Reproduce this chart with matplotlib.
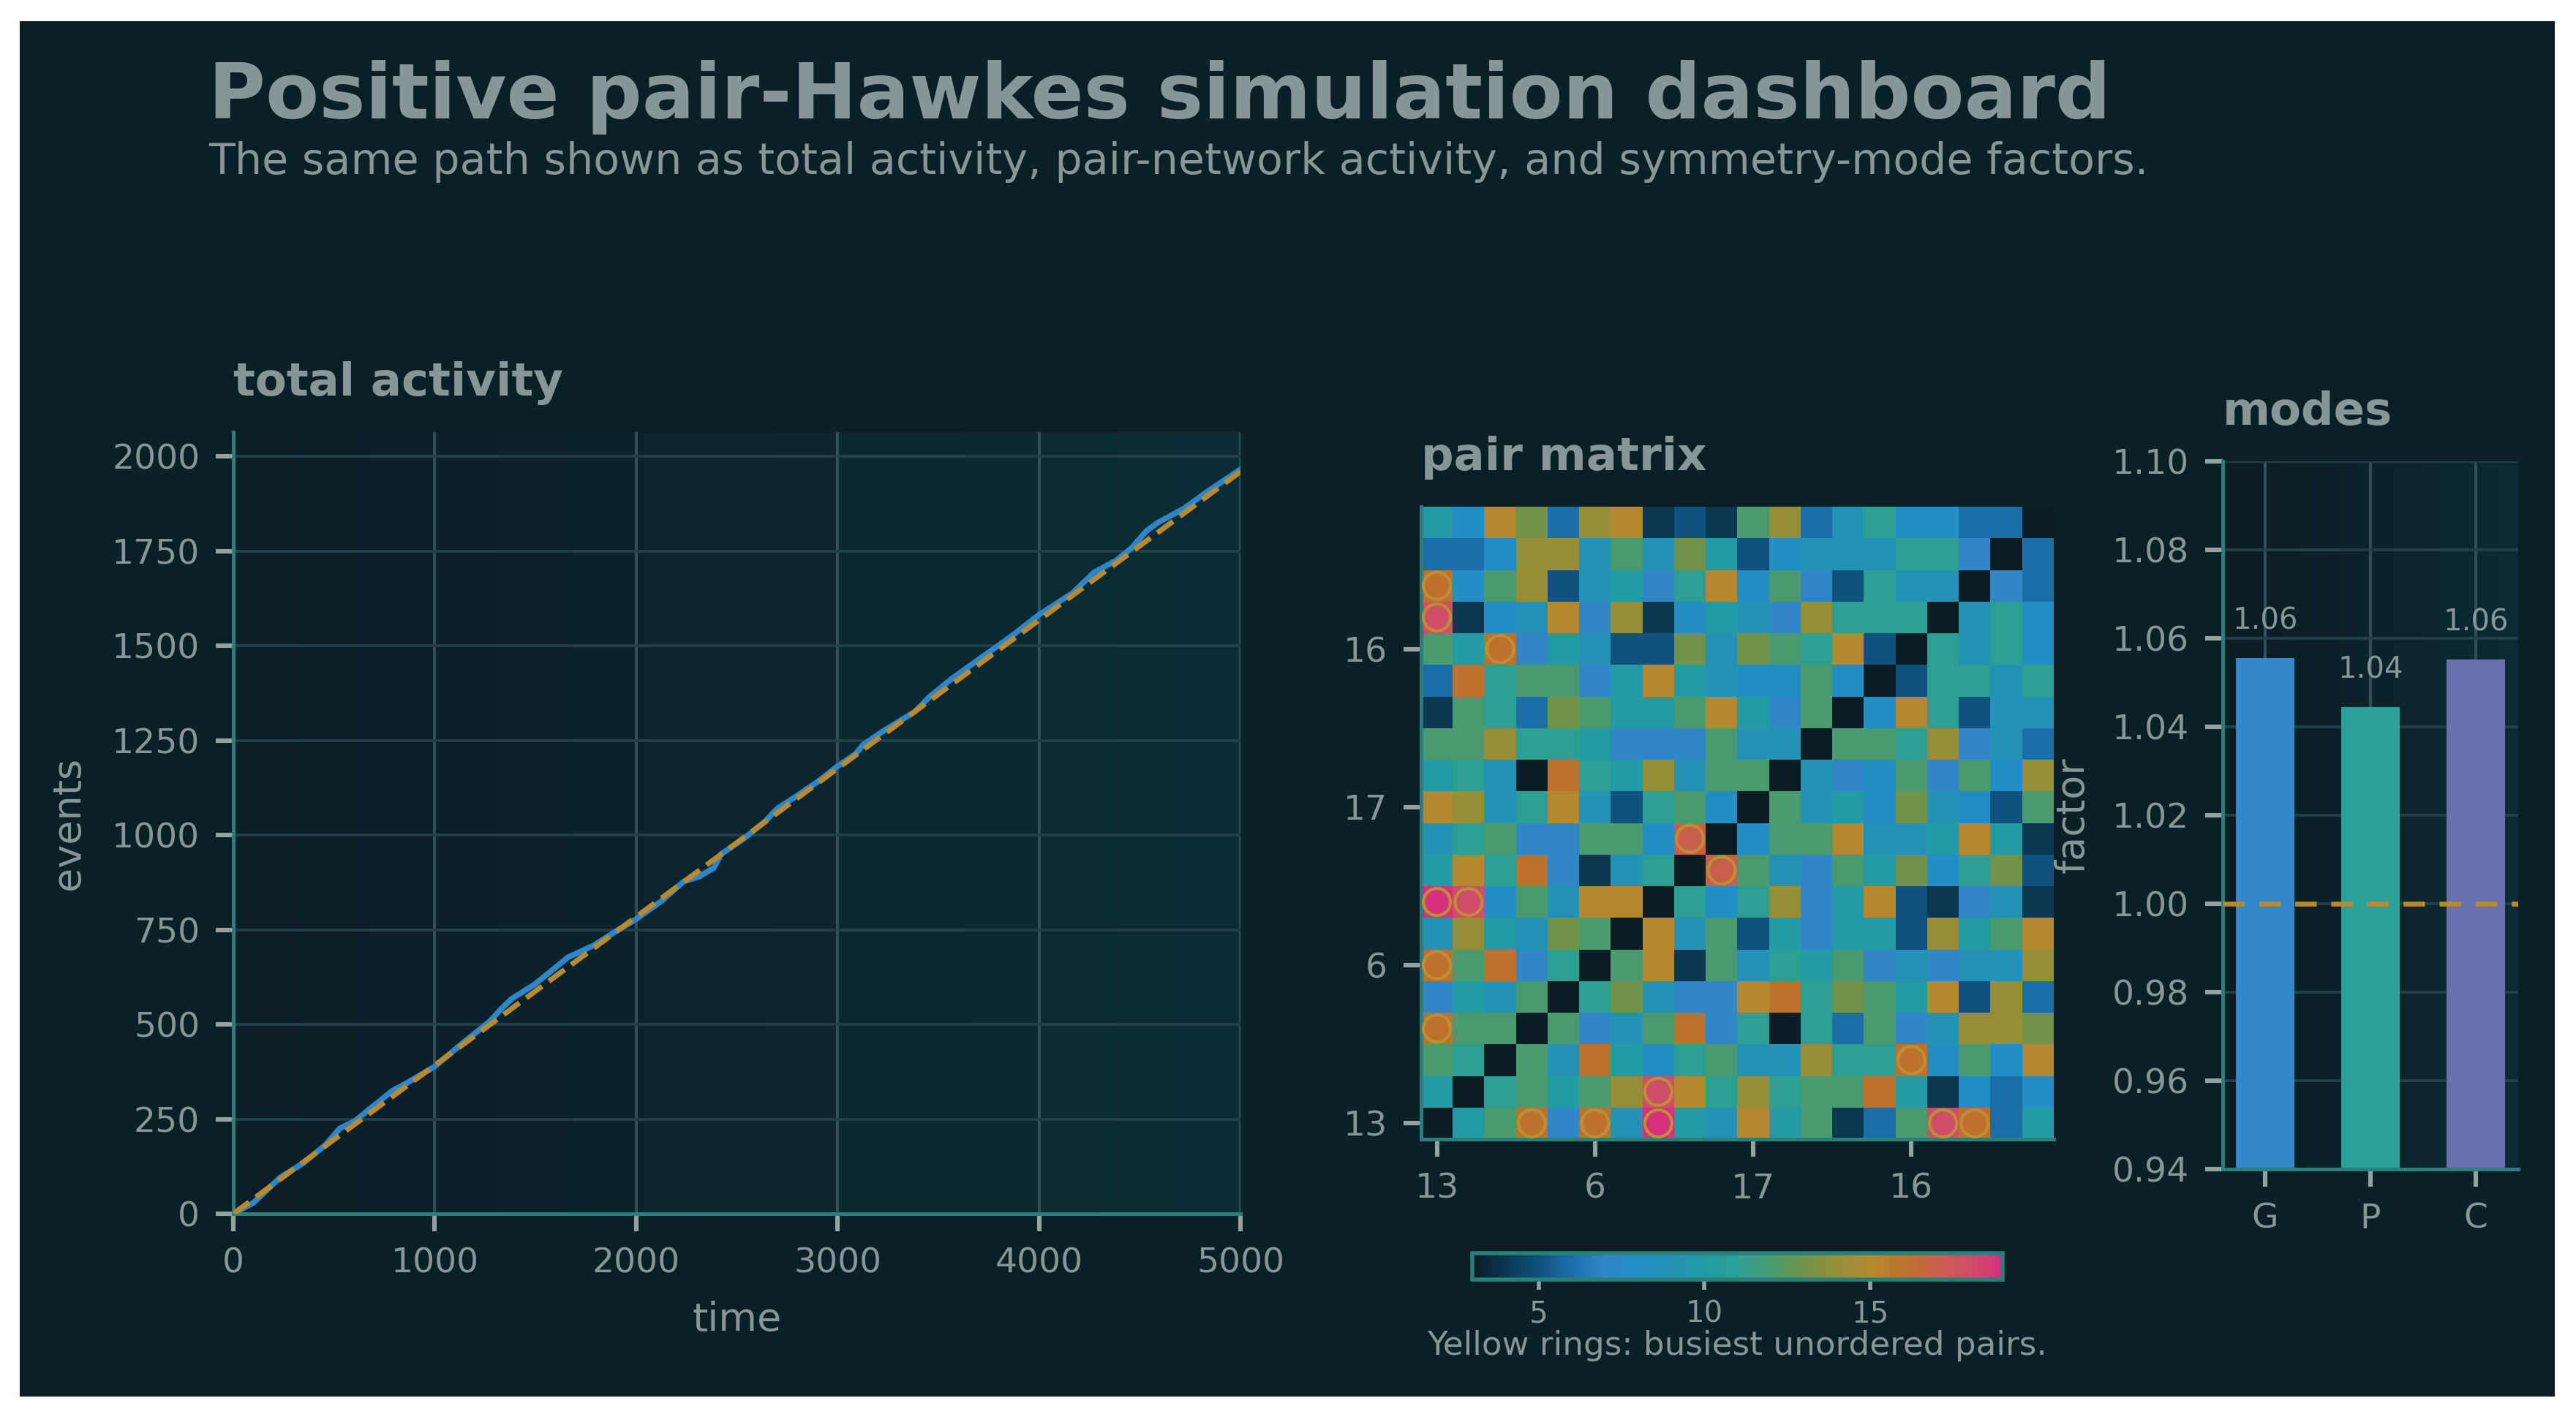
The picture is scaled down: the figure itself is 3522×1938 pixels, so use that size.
"""
Positive pair-Hawkes simulation dashboard: total activity, pair matrix, modes.
"""
import numpy as np
import matplotlib
matplotlib.use("Agg")
import matplotlib.pyplot as plt
from matplotlib.colors import LinearSegmentedColormap
from matplotlib.patches import Rectangle

# ---- data ----
event_time = [0, 100, 233, 345, 456, 530, 604, 678, 790, 864, 1000, 1126, 1275, 1330,
              1383, 1494, 1587, 1661, 1790, 1900, 2000, 2126, 2237, 2311, 2385, 2422,
              2533, 2644, 2700, 2793, 2904, 3000, 3089, 3125, 3236, 3384, 3458, 3569,
              3717, 3865, 4000, 4163, 4274, 4385, 4459, 4533, 4589, 4718, 4830, 5000]
event_count = [0, 29, 96, 133, 181, 226, 245, 277, 325, 346, 389, 445, 509, 541,
               568, 605, 645, 677, 709, 746, 778, 826, 878, 890, 913, 950,
               990, 1038, 1070, 1102, 1142, 1182, 1214, 1238, 1278, 1326, 1366, 1414,
               1470, 1526, 1582, 1638, 1694, 1726, 1758, 1803, 1825, 1862, 1905, 1966]
expected_time = [0, 5000]
expected_count = [0, 1960]

node_labels = ['13', '6', '17', '16']
node_ticks = [0, 5, 10, 15]

# pair counts, row 0 = bottom row of the picture
pair_counts = [
    [0, 10, 12, 16, 7, 16, 9, 19, 10, 9, 15, 10, 12, 4, 6, 12, 18, 16, 6, 10],
    [10, 0, 11, 12, 10, 12, 14, 18, 15, 11, 14, 11, 12, 12, 16, 10, 4, 8, 6, 8],
    [12, 11, 0, 12, 9, 16, 10, 8, 11, 12, 9, 9, 14, 11, 11, 16, 8, 12, 8, 15],
    [16, 12, 12, 0, 12, 7, 9, 12, 16, 7, 11, 3, 11, 6, 12, 7, 9, 14, 14, 13],
    [7, 10, 9, 12, 0, 11, 13, 9, 7, 7, 15, 16, 11, 13, 12, 10, 15, 5, 14, 6],
    [16, 12, 16, 7, 11, 0, 12, 15, 4, 12, 9, 11, 10, 12, 7, 9, 7, 9, 9, 14],
    [9, 14, 10, 9, 13, 12, 0, 15, 9, 12, 5, 10, 7, 10, 10, 5, 14, 10, 12, 15],
    [19, 18, 8, 12, 9, 15, 15, 0, 11, 8, 11, 14, 7, 10, 15, 5, 4, 7, 9, 4],
    [10, 15, 11, 16, 7, 4, 9, 11, 0, 17, 12, 9, 7, 12, 10, 13, 8, 11, 13, 5],
    [9, 11, 12, 7, 7, 12, 12, 8, 17, 0, 8, 12, 12, 15, 9, 9, 10, 15, 10, 4],
    [15, 14, 9, 11, 15, 9, 5, 11, 12, 8, 0, 12, 9, 10, 8, 13, 9, 8, 5, 12],
    [10, 11, 9, 3, 16, 11, 10, 14, 9, 12, 12, 0, 9, 7, 8, 12, 7, 12, 8, 14],
    [12, 12, 14, 11, 11, 10, 7, 7, 7, 12, 9, 9, 0, 12, 12, 11, 14, 7, 9, 6],
    [4, 12, 11, 6, 13, 12, 10, 10, 12, 15, 10, 7, 12, 0, 8, 15, 11, 5, 9, 9],
    [6, 16, 11, 12, 12, 7, 10, 15, 10, 9, 8, 8, 12, 8, 0, 5, 11, 11, 9, 11],
    [12, 10, 16, 7, 10, 9, 5, 5, 13, 9, 13, 12, 11, 15, 5, 0, 11, 9, 11, 8],
    [18, 4, 8, 9, 15, 7, 14, 4, 8, 10, 9, 7, 14, 11, 11, 11, 0, 9, 11, 8],
    [16, 8, 12, 14, 5, 9, 10, 7, 11, 15, 8, 12, 7, 5, 11, 9, 9, 0, 7, 6],
    [6, 6, 8, 14, 14, 9, 12, 9, 13, 10, 5, 8, 9, 9, 9, 11, 11, 7, 0, 6],
    [10, 8, 15, 13, 6, 14, 15, 4, 5, 4, 12, 14, 6, 9, 11, 8, 8, 6, 6, 0],
]
busiest_pairs = [(0, 3), (0, 5), (0, 7), (0, 16), (0, 17), (1, 7), (2, 15), (8, 9)]

mode_names = ['G', 'P', 'C']
mode_factors = [1.0555, 1.0445, 1.0552]

# ---- style ----
W, H, DPI = 3522, 1938, 200
BG = '#0a1f26'
TEXT = '#879799'
TICKC = '#93a3a4'
SPINE = '#2b7f7a'
GOLD = '#b8892f'
BLUE = '#2e86c8'
RING = '#bf8d35'
mode_colors = ['#3288c8', '#2aa198', '#6b70b0']
pair_cmap = LinearSegmentedColormap.from_list('pairs', [
    '#0a1c24', '#0b3850', '#10527e', '#1b6fa8', '#3186c8', '#238ec6', '#2592b5',
    '#229ba6', '#2aa093', '#4a9a70', '#70944a', '#948f38', '#b48a30', '#bd742b',
    '#c9604a', '#cf4f68', '#d6307f'])


def fig_rect(x0, y0, x1, y1):
    # pixel box (top-left origin) -> figure fraction
    return [x0 / W, 1 - y1 / H, (x1 - x0) / W, (y1 - y0) / H]


def panel_gradient(ax, c0, c1):
    cm = LinearSegmentedColormap.from_list('bg', [c0, c1])
    ax.imshow(np.linspace(0, 1, 256)[None, :], cmap=cm, extent=[0, 1, 0, 1],
              transform=ax.transAxes, aspect='auto', zorder=-10,
              interpolation='bilinear')


def style_axes(ax, title, pad=18):
    ax.set_facecolor('none')
    for side in ['top', 'right']:
        ax.spines[side].set_visible(False)
    for side in ['left', 'bottom']:
        ax.spines[side].set_color(SPINE)
        ax.spines[side].set_linewidth(1.8)
    ax.tick_params(colors=TICKC, labelcolor=TEXT, labelsize=17, length=8.5,
                   width=2.2, pad=8)
    ax.set_title(title, loc='left', fontsize=22.5, fontweight='bold',
                 color=TEXT, pad=pad)


fig = plt.figure(figsize=(W / DPI, H / DPI), dpi=DPI, facecolor='white')
fig.add_artist(Rectangle((27 / W, 1 - 1910 / H), (3493 - 27) / W, (1910 - 29) / H,
                         transform=fig.transFigure, facecolor=BG,
                         edgecolor='none', zorder=-100))

fig.text(285 / W, 1 - 162 / H, 'Positive pair-Hawkes simulation dashboard',
         fontsize=38.3, fontweight='bold', color=TEXT, va='baseline')
fig.text(285 / W, 1 - 238 / H,
         'The same path shown as total activity, pair-network activity, '
         'and symmetry-mode factors.',
         fontsize=21.1, color=TEXT, va='baseline')

# ---- total activity ----
ax1 = fig.add_axes(fig_rect(319, 591, 1696, 1660))
panel_gradient(ax1, '#0c1e26', '#0b2d37')
ax1.grid(axis='x', color='#34505a', lw=1.4)
ax1.grid(axis='y', color='#23404a', lw=1.4)
ax1.set_axisbelow(True)
ax1.plot(event_time, event_count, color=BLUE, lw=2.8, zorder=3)
ax1.plot(expected_time, expected_count, color=GOLD, lw=2.6, ls='--', zorder=4)
ax1.set_xlim(0, 5000)
ax1.set_ylim(0, max(event_count) * 1.05)
ax1.set_xticks(np.arange(0, 5001, 1000))
ax1.set_yticks(np.arange(0, 2001, 250))
ax1.set_xlabel('time', fontsize=19.5, color=TEXT, labelpad=10)
ax1.set_ylabel('events', fontsize=19.5, color=TEXT, labelpad=12)
style_axes(ax1, 'total activity')

# ---- pair matrix ----
ax2 = fig.add_axes(fig_rect(1943, 693, 2808, 1558))
M = np.array(pair_counts, dtype=float)
im = ax2.imshow(M, cmap=pair_cmap, vmin=3, vmax=19, origin='lower',
                aspect='auto', interpolation='nearest')
rx = [b for a, b in busiest_pairs] + [a for a, b in busiest_pairs]
ry = [a for a, b in busiest_pairs] + [b for a, b in busiest_pairs]
ax2.scatter(rx, ry, s=177, facecolors='none', edgecolors=RING, linewidths=1.5,
            zorder=3)
ax2.set_xticks(node_ticks)
ax2.set_xticklabels(node_labels)
ax2.set_yticks(node_ticks)
ax2.set_yticklabels(node_labels)
style_axes(ax2, 'pair matrix')

cax = fig.add_axes(fig_rect(2013, 1714, 2738, 1750))
cb = fig.colorbar(im, cax=cax, orientation='horizontal', ticks=[5, 10, 15])
cb.outline.set_edgecolor(SPINE)
cb.outline.set_linewidth(2)
cax.tick_params(colors=TICKC, labelcolor=TEXT, labelsize=14.5, length=5,
                width=2, pad=5)
fig.text(2375 / W, 1 - 1853 / H, 'Yellow rings: busiest unordered pairs.',
         ha='center', va='baseline', fontsize=16.3, color=TEXT)

# ---- modes ----
ax3 = fig.add_axes(fig_rect(3039, 631, 3443, 1599))
panel_gradient(ax3, '#0c1c23', '#0b2b34')
ax3.grid(axis='x', color='#34505a', lw=1.4)
ax3.grid(axis='y', color='#23404a', lw=1.4)
ax3.set_axisbelow(True)
x = np.arange(len(mode_names))
ax3.bar(x, mode_factors, width=0.55, color=mode_colors, zorder=2)
for i, v in enumerate(mode_factors):
    ax3.text(i, v + 0.005, f'{v:.2f}', ha='center', va='bottom', fontsize=14.5,
             color=TEXT)
ax3.axhline(1.0, color=GOLD, lw=2.4, dashes=(4.4, 3), zorder=3)
ax3.set_xticks(x)
ax3.set_xticklabels(mode_names)
ax3.set_xlim(-0.4025, 2.4025)
ax3.set_ylim(0.94, 1.10)
ax3.set_yticks(np.arange(0.94, 1.1001, 0.02))
ax3.yaxis.set_major_formatter(plt.FormatStrFormatter('%.2f'))
ax3.set_ylabel('factor', fontsize=19.5, color=TEXT, labelpad=10)
style_axes(ax3, 'modes')

fig.savefig('out.png', dpi=DPI, facecolor=fig.get_facecolor())
